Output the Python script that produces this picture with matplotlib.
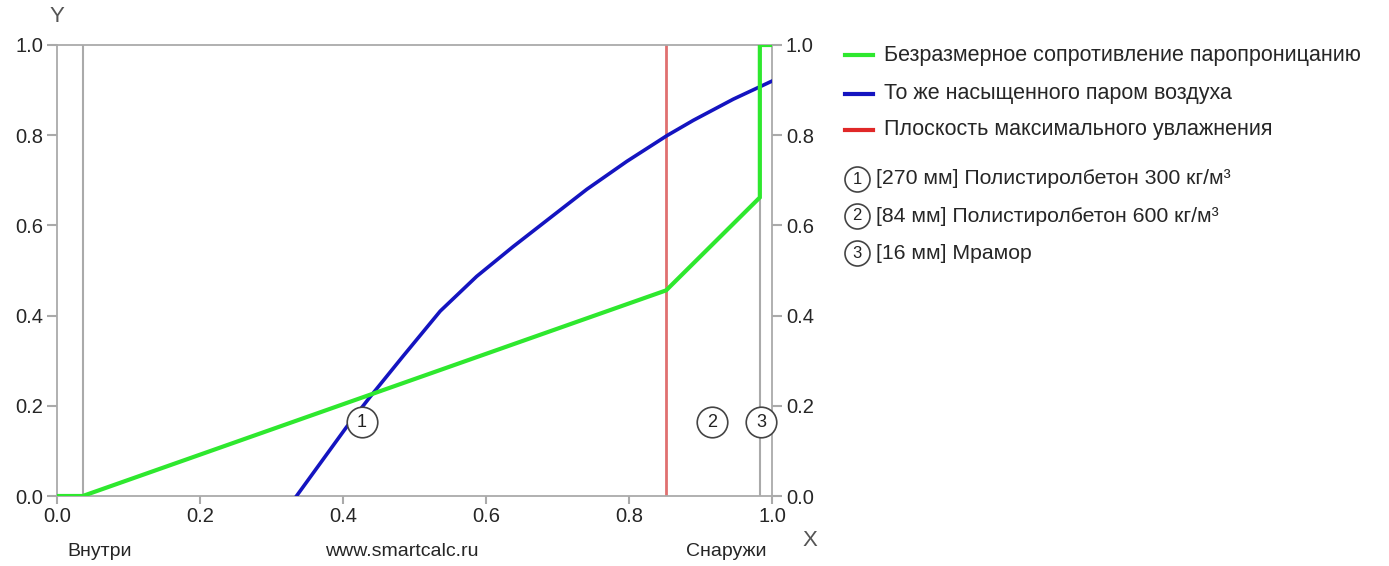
import matplotlib
matplotlib.use("Agg")
import matplotlib.pyplot as plt
from matplotlib.lines import Line2D

plt.rcParams['font.family'] = ['Liberation Sans', 'DejaVu Sans']

# ---- data ----
green_x = [0.0, 0.036, 0.852, 0.983, 0.983, 1.0]
green_y = [0.0, 0.0, 0.456, 0.662, 1.0, 1.0]

blue_x = [0.335, 0.405, 0.438, 0.484, 0.536, 0.587, 0.638, 0.685, 0.741, 0.797,
          0.853, 0.890, 0.946, 1.0]
blue_y = [0.0, 0.153, 0.220, 0.310, 0.410, 0.487, 0.553, 0.611, 0.680, 0.742,
          0.799, 0.833, 0.880, 0.920]

red_x = 0.852
boundaries = [0.036, 0.983]

layer_ids = ["1", "2", "3"]
layer_x = [0.426, 0.916, 0.985]
layer_y = [0.164, 0.164, 0.164]
layer_names = ["[270 мм] Полистиролбетон 300 кг/м³",
               "[84 мм] Полистиролбетон 600 кг/м³",
               "[16 мм] Мрамор"]

series_names = ["Безразмерное сопротивление паропроницанию",
                "То же насыщенного паром воздуха",
                "Плоскость максимального увлажнения"]

ticks = [0.0, 0.2, 0.4, 0.6, 0.8, 1.0]
tick_labels = ["0.0", "0.2", "0.4", "0.6", "0.8", "1.0"]

GREEN = "#2ee82e"
BLUE = "#1414c0"
RED_LINE = "#e07070"
RED_LEG = "#e02828"
GRAY = "#aaaaaa"
TXT = "#262626"

W, H = 1389, 566
fig = plt.figure(figsize=(W / 100, H / 100), dpi=100)
ax = fig.add_axes([57 / W, 1 - 496 / H, (772 - 57) / W, (496 - 45) / H])

for b in boundaries:
    ax.axvline(b, color=GRAY, lw=1.5, zorder=1)
ax.axvline(red_x, color=RED_LINE, lw=2, zorder=2)
ax.plot(blue_x, blue_y, color=BLUE, lw=2.6, zorder=3, solid_joinstyle='round')
ax.plot(green_x, green_y, color=GREEN, lw=3, zorder=4, solid_joinstyle='miter')

for lid, lx, ly in zip(layer_ids, layer_x, layer_y):
    ax.plot([lx], [ly], marker='o', ms=22, mfc='white', mec='#444444', mew=1.2,
            zorder=6, clip_on=False)
    ax.text(lx, ly, lid, ha='center', va='center', fontsize=13, color='#222222',
            zorder=7)

ax.set_xlim(0, 1)
ax.set_ylim(0, 1)
ax.set_xticks(ticks)
ax.set_xticklabels(tick_labels)
ax.set_yticks(ticks)
ax.set_yticklabels(tick_labels)
ax.tick_params(axis='both', colors=GRAY, labelcolor=TXT, labelsize=14.5,
               length=7, width=1.5)
ax.tick_params(axis='y', right=True, labelright=True, pad=3)
ax.tick_params(axis='x', length=6, pad=2)
for s in ax.spines.values():
    s.set_color(GRAY)
    s.set_linewidth(1.3)

# axis names and captions
fig.text(57 / W, 1 - 16 / H, "Y", fontsize=16, color='#555555', ha='center', va='center')
fig.text(810 / W, 1 - 540 / H, "X", fontsize=16, color='#555555', ha='center', va='center')
fig.text(100 / W, 1 - 552 / H, "Внутри", fontsize=14, color=TXT, ha='center', va='center')
fig.text(402 / W, 1 - 552 / H, "www.smartcalc.ru", fontsize=14, color=TXT, ha='center', va='center')
fig.text(726 / W, 1 - 552 / H, "Снаружи", fontsize=14, color=TXT, ha='center', va='center')

# legend
leg_y = [55, 94, 130]
for name, col, yy in zip(series_names, [GREEN, BLUE, RED_LEG], leg_y):
    fig.add_artist(Line2D([845 / W, 873 / W], [1 - yy / H, 1 - yy / H],
                          transform=fig.transFigure, color=col, lw=3))
    fig.text(884 / W, 1 - yy / H, name, fontsize=15.5, color=TXT, va='center', ha='left')

leg_c_y = [179, 216, 253]
for lid, name, yy in zip(layer_ids, layer_names, leg_c_y):
    fig.add_artist(Line2D([857 / W], [1 - yy / H], transform=fig.transFigure,
                          marker='o', ms=18, mfc='white', mec='#444444', mew=1.2))
    fig.text(857 / W, 1 - yy / H, lid, fontsize=12, color='#222222', ha='center', va='center')
    fig.text(876 / W, 1 - yy / H, name, fontsize=15.3, color=TXT, va='center', ha='left')

fig.savefig("out.png", dpi=100)
